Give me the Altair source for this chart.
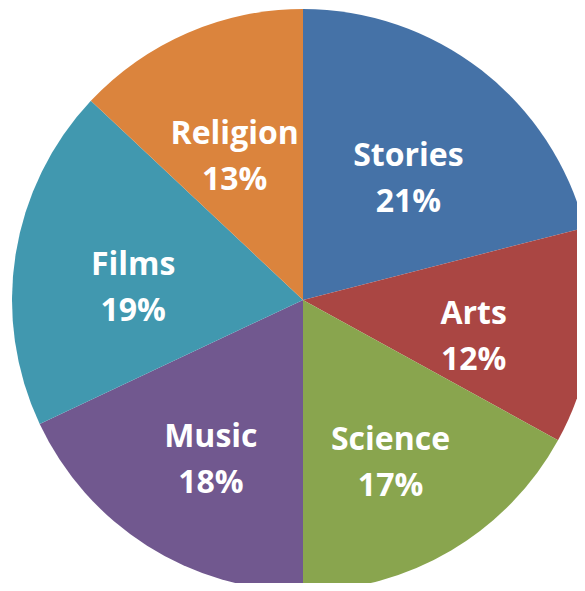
import altair as alt
import pandas as pd

categories = ["Stories", "Arts", "Science", "Music", "Films", "Religion"]
values = [21, 12, 17, 18, 19, 13]
colors = ["#4572A7", "#AA4643", "#89A54E", "#71588F", "#4198AF", "#DB843D"]

df = pd.DataFrame({
    "category": categories,
    "value": values,
    "order": list(range(len(categories))),
})
df["label"] = [f"{c}\n{v}%" for c, v in zip(categories, values)]

cx, cy, R = 295, 292, 291

base = alt.Chart(df).encode(
    theta=alt.Theta("value:Q", stack=True),
    order=alt.Order("order:Q"),
)

pie = base.mark_arc(outerRadius=R, stroke=None).encode(
    color=alt.Color("category:N", scale=alt.Scale(domain=categories, range=colors), legend=None),
    x=alt.value(cx),
    y=alt.value(cy),
)

labels = base.mark_text(
    radius=172,
    dy=-8,
    font="Open Sans",
    fontSize=32,
    fontWeight="bold",
    color="white",
    lineBreak="\n",
    lineHeight=46,
    baseline="middle",
    align="center",
).encode(
    text="label:N",
    x=alt.value(cx),
    y=alt.value(cy),
)

chart = (pie + labels).properties(
    width=569,
    height=575,
    padding=0,
    autosize=alt.AutoSizeParams(type="none"),
).configure_view(stroke=None)

chart.save("out.html", embed_options={"renderer": "svg", "actions": False})
